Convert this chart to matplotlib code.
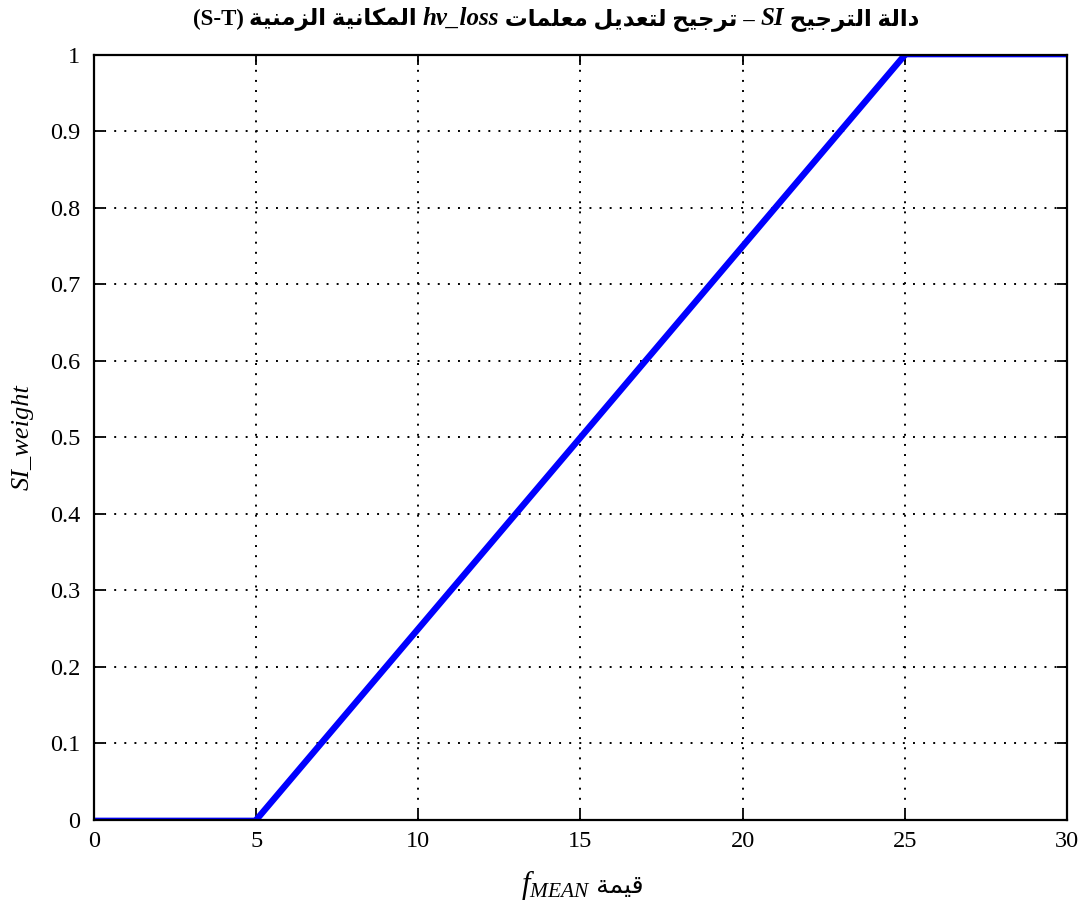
import matplotlib
matplotlib.use('Agg')
import matplotlib.pyplot as plt
from matplotlib.offsetbox import TextArea, HPacker, AnchoredOffsetbox

plt.rcParams['font.family'] = ['Liberation Serif', 'DejaVu Sans']
plt.rcParams['mathtext.fontset'] = 'custom'
plt.rcParams['mathtext.it'] = 'Liberation Serif:italic'
plt.rcParams['mathtext.rm'] = 'Liberation Serif'

# weighting curve: zero below 5, linear ramp to 1 at 25, flat afterwards
f_mean = [0, 5, 25, 30]
si_weight = [0, 0, 1, 1]
ramp = slice(1, 3)

x_ticks = [0, 5, 10, 15, 20, 25, 30]
y_ticks = [0, 0.1, 0.2, 0.3, 0.4, 0.5, 0.6, 0.7, 0.8, 0.9, 1]
y_ticklabels = ['0', '0.1', '0.2', '0.3', '0.4', '0.5', '0.6', '0.7', '0.8', '0.9', '1']

# Arabic contextual forms: (isolated, final, initial, medial); None = no join to next
FORMS = {
    'ا': ('\uFE8D', '\uFE8E', None, None),
    'ة': ('\uFE93', '\uFE94', None, None),
    'ت': ('\uFE95', '\uFE96', '\uFE97', '\uFE98'),
    'ج': ('\uFE9D', '\uFE9E', '\uFE9F', '\uFEA0'),
    'ح': ('\uFEA1', '\uFEA2', '\uFEA3', '\uFEA4'),
    'د': ('\uFEA9', '\uFEAA', None, None),
    'ر': ('\uFEAD', '\uFEAE', None, None),
    'ز': ('\uFEAF', '\uFEB0', None, None),
    'ع': ('\uFEC9', '\uFECA', '\uFECB', '\uFECC'),
    'ق': ('\uFED5', '\uFED6', '\uFED7', '\uFED8'),
    'ك': ('\uFED9', '\uFEDA', '\uFEDB', '\uFEDC'),
    'ل': ('\uFEDD', '\uFEDE', '\uFEDF', '\uFEE0'),
    'م': ('\uFEE1', '\uFEE2', '\uFEE3', '\uFEE4'),
    'ن': ('\uFEE5', '\uFEE6', '\uFEE7', '\uFEE8'),
    'ي': ('\uFEF1', '\uFEF2', '\uFEF3', '\uFEF4'),
}


def shape_word(word):
    out = []
    for i, ch in enumerate(word):
        if ch not in FORMS:
            out.append(ch)
            continue
        prev = word[i - 1] if i > 0 else None
        nxt = word[i + 1] if i + 1 < len(word) else None
        join_prev = prev in FORMS and FORMS[prev][2] is not None
        join_next = nxt in FORMS and FORMS[ch][2] is not None
        iso, fin, ini, med = FORMS[ch]
        if join_prev and join_next:
            out.append(med)
        elif join_prev:
            out.append(fin)
        elif join_next:
            out.append(ini)
        else:
            out.append(iso)
    return ''.join(reversed(out))


def shape(text):
    # right-to-left: glyphs and word order both reversed for drawing
    return ' '.join(reversed([shape_word(w) for w in text.split(' ')]))


fig = plt.figure(figsize=(10.84, 9.10), dpi=100)
ax = fig.add_axes([0.0867, 0.0989, 0.8976, 0.8407])

ax.plot(f_mean, si_weight, color='#0000ff', linewidth=3.4, solid_capstyle='butt')
ax.plot(f_mean[ramp], si_weight[ramp], color='#0000ff', linewidth=4.6, solid_capstyle='butt')

ax.set_xlim(0, 30)
ax.set_ylim(0, 1)
ax.set_xticks(x_ticks)
ax.set_yticks(y_ticks)
ax.set_yticklabels(y_ticklabels)
ax.tick_params(direction='in', length=7.5, width=1.3, top=True, right=True,
               labelsize=17.5, colors='black')
ax.tick_params(axis='y', pad=10)
ax.tick_params(axis='x', pad=8)
for s in ax.spines.values():
    s.set_linewidth(1.6)
ax.grid(True, color='black', linestyle=(0, (1, 4.2)), linewidth=1.4)
ax.set_axisbelow(True)

ax.set_ylabel('SI_weight', fontsize=19, style='italic')
ax.yaxis.set_label_coords(-0.062, 0.5)

# title built from mixed runs, laid out right-to-left
bold = dict(fontsize=16.5, fontweight='bold', family=['Liberation Serif', 'DejaVu Sans'])
bold_it = dict(fontsize=18, fontweight='bold', style='italic', family='Liberation Serif')
runs = [
    ('(S-T) ', bold),
    (shape('المكانية الزمنية') + ' ', bold),
    ('hv_loss', bold_it),
    (' ' + shape('ترجيح لتعديل معلمات') + ' – ', bold),
    ('SI', bold_it),
    (' ' + shape('دالة الترجيح'), bold),
]
title_box = HPacker(children=[TextArea(t, textprops=p) for t, p in runs],
                    align='baseline', pad=0, sep=0)
fig.add_artist(AnchoredOffsetbox(loc='center', child=title_box, frameon=False,
                                 pad=0, borderpad=0, bbox_to_anchor=(0.513, 0.979),
                                 bbox_transform=fig.transFigure))

# x label: f_MEAN followed by the Arabic word
xl_box = HPacker(children=[
    TextArea('$f_{MEAN}$', textprops=dict(fontsize=22)),
    TextArea(' ' + shape('قيمة'), textprops=dict(fontsize=18, family=['Liberation Serif', 'DejaVu Sans'])),
], align='baseline', pad=0, sep=0)
fig.add_artist(AnchoredOffsetbox(loc='center', child=xl_box, frameon=False,
                                 pad=0, borderpad=0, bbox_to_anchor=(0.537, 0.027),
                                 bbox_transform=fig.transFigure))

fig.savefig('out.png', dpi=100)
